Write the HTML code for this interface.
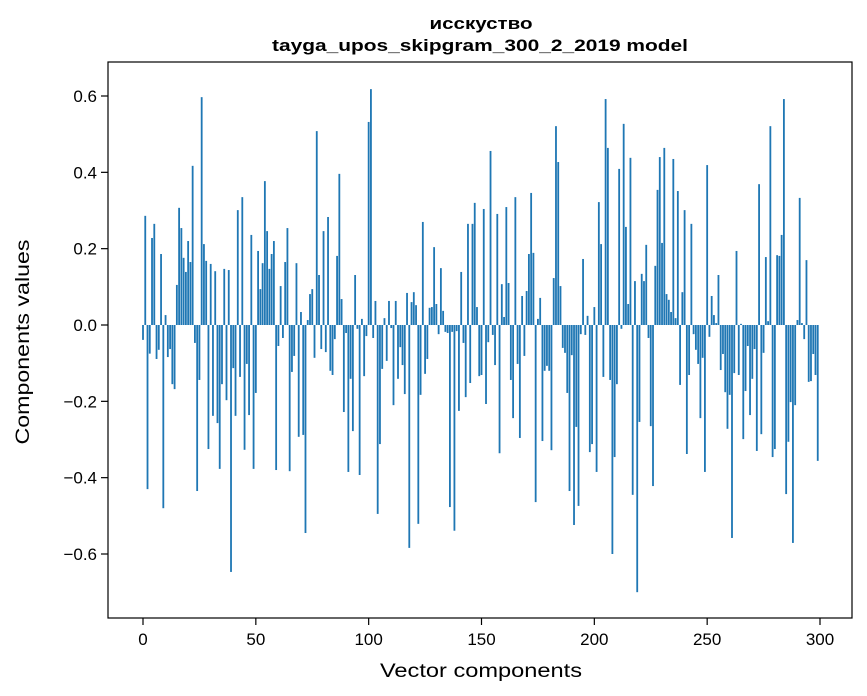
<!DOCTYPE html>
<html><head><meta charset="utf-8"><style>
html,body{margin:0;padding:0;background:#fff;}
svg{display:block;font-family:"Liberation Sans","DejaVu Sans",sans-serif;}
</style></head><body>
<svg id="chart" width="867" height="696" viewBox="0 0 867 696" xmlns="http://www.w3.org/2000/svg">
<rect x="0" y="0" width="867" height="696" fill="#fff"/>
<text x="481" y="29" text-anchor="middle" font-size="17" font-weight="bold" textLength="103" lengthAdjust="spacingAndGlyphs">исскуство</text>
<text x="480" y="51" text-anchor="middle" font-size="17" font-weight="bold" textLength="416" lengthAdjust="spacingAndGlyphs">tayga_upos_skipgram_300_2_2019 model</text>
<g id="bars"></g>
<g id="xticks"></g>
<g id="yticks"></g>
<rect x="108" y="62" width="744" height="556" fill="none" stroke="#000" stroke-width="1.2"/>
<text x="481" y="677" text-anchor="middle" font-size="19" textLength="202" lengthAdjust="spacingAndGlyphs">Vector components</text>
<text transform="translate(29,342) rotate(-90)" text-anchor="middle" font-size="19" textLength="205" lengthAdjust="spacingAndGlyphs">Components values</text>
</svg>
<script>
const values = [
-0.039,0.286,-0.43,-0.075,0.228,0.265,-0.089,-0.065,0.186,-0.48,
0.026,-0.084,-0.063,-0.155,-0.168,0.105,0.307,0.254,0.176,0.139,
0.22,0.165,0.417,-0.047,-0.435,-0.144,0.597,0.212,0.168,-0.325,
0.16,-0.238,0.141,-0.257,-0.377,-0.155,0.147,-0.197,0.144,-0.647,
-0.113,-0.238,0.301,-0.136,0.335,-0.327,-0.102,-0.236,0.236,-0.377,
-0.178,0.194,0.094,0.162,0.377,0.246,0.147,0.186,0.22,-0.38,
-0.055,0.102,-0.034,0.165,0.254,-0.383,-0.123,-0.081,0.162,-0.293,
0.034,-0.288,-0.545,0.013,0.081,0.094,-0.086,0.508,0.131,-0.063,
0.246,-0.071,0.283,-0.12,-0.131,-0.037,0.181,0.396,0.068,-0.228,
-0.021,-0.385,-0.141,-0.278,0.131,-0.01,-0.393,0.016,-0.134,-0.029,
0.532,0.618,-0.034,0.063,-0.495,-0.312,-0.115,0.018,-0.094,0.063,
-0.008,-0.21,0.063,-0.141,-0.058,-0.105,-0.181,0.084,-0.584,0.06,
0.086,0.052,-0.521,-0.183,0.27,-0.128,-0.089,0.045,0.047,0.204,
0.055,-0.024,0.149,0.037,-0.018,-0.021,-0.477,-0.018,-0.539,-0.016,
-0.225,0.139,-0.047,-0.189,0.265,-0.152,0.265,0.32,0.047,-0.134,
-0.131,0.304,-0.207,-0.045,0.456,-0.026,-0.105,0.291,-0.336,0.107,
0.021,0.309,0.11,-0.144,-0.244,0.335,-0.102,-0.296,0.076,-0.081,
0.089,0.186,0.346,0.189,-0.464,0.016,0.071,-0.304,-0.12,-0.107,
-0.12,-0.328,0.123,0.521,0.427,0.102,-0.06,-0.073,-0.178,-0.435,
-0.079,-0.524,-0.267,-0.474,-0.024,0.173,-0.026,0.024,-0.333,-0.312,
0.047,-0.385,0.322,0.212,-0.136,0.592,0.464,-0.144,-0.6,-0.346,
-0.155,0.409,-0.01,0.527,0.257,0.055,0.438,-0.445,0.115,-0.7,
-0.254,0.134,0.115,0.21,-0.034,-0.265,-0.422,0.155,0.354,0.44,
0.215,0.464,0.081,0.066,0.034,0.435,0.018,0.351,-0.157,0.086,
0.301,-0.338,-0.131,0.265,-0.024,-0.065,-0.102,-0.244,-0.086,-0.385,
0.419,-0.031,0.076,0.026,0.005,0.131,-0.118,-0.076,-0.176,-0.272,
-0.183,-0.558,-0.126,0.194,-0.131,0.003,-0.299,-0.173,-0.055,-0.236,
-0.141,-0.063,-0.33,0.369,-0.286,-0.073,0.178,0.01,0.521,-0.346,
-0.325,0.183,0.181,0.236,0.592,-0.443,-0.306,-0.202,-0.571,-0.21,
0.013,0.333,0.005,-0.037,0.17,-0.149,-0.147,-0.076,-0.131,-0.356
];
const xTickValues = [0,50,100,150,200,250,300];
const yTickValues = [-0.6,-0.4,-0.2,0.0,0.2,0.4,0.6];
const yTickLabels = ["\u22120.6","\u22120.4","\u22120.2","0.0","0.2","0.4","0.6"];

const NS = "http://www.w3.org/2000/svg";
function xScale(v){ return 143 + v * (677/300); }
function yScale(v){ return 325 - v * (229/0.6); }

const barsG = document.getElementById('bars');
const bw = 0.8 * (677/300);
values.forEach((v,i)=>{
  const r = document.createElementNS(NS,'rect');
  const y0 = yScale(0), y1 = yScale(v);
  r.setAttribute('x', (xScale(i) - bw/2).toFixed(2));
  r.setAttribute('y', Math.min(y0,y1).toFixed(2));
  r.setAttribute('width', bw.toFixed(2));
  r.setAttribute('height', Math.max(Math.abs(y1-y0),0.3).toFixed(2));
  r.setAttribute('fill', '#1f77b4');
  
  
  barsG.appendChild(r);
});

const xg = document.getElementById('xticks');
xTickValues.forEach(t=>{
  const x = xScale(t);
  const l = document.createElementNS(NS,'line');
  l.setAttribute('x1',x); l.setAttribute('x2',x);
  l.setAttribute('y1',618); l.setAttribute('y2',625);
  l.setAttribute('stroke','#000'); l.setAttribute('stroke-width','1.2');
  
  
  xg.appendChild(l);
  const tx = document.createElementNS(NS,'text');
  tx.setAttribute('x',x); tx.setAttribute('y',645);
  tx.setAttribute('text-anchor','middle'); tx.setAttribute('font-size','17');
  tx.textContent = String(t);
  
  
  xg.appendChild(tx);
});

const yg = document.getElementById('yticks');
yTickValues.forEach((t,i)=>{
  const y = yScale(t);
  const l = document.createElementNS(NS,'line');
  l.setAttribute('x1',101); l.setAttribute('x2',108);
  l.setAttribute('y1',y); l.setAttribute('y2',y);
  l.setAttribute('stroke','#000'); l.setAttribute('stroke-width','1.2');
  
  
  yg.appendChild(l);
  const tx = document.createElementNS(NS,'text');
  tx.setAttribute('x',97); tx.setAttribute('y',y+6);
  tx.setAttribute('text-anchor','end'); tx.setAttribute('font-size','17');
  tx.textContent = yTickLabels[i];
  
  
  yg.appendChild(tx);
});
</script>
</body></html>
